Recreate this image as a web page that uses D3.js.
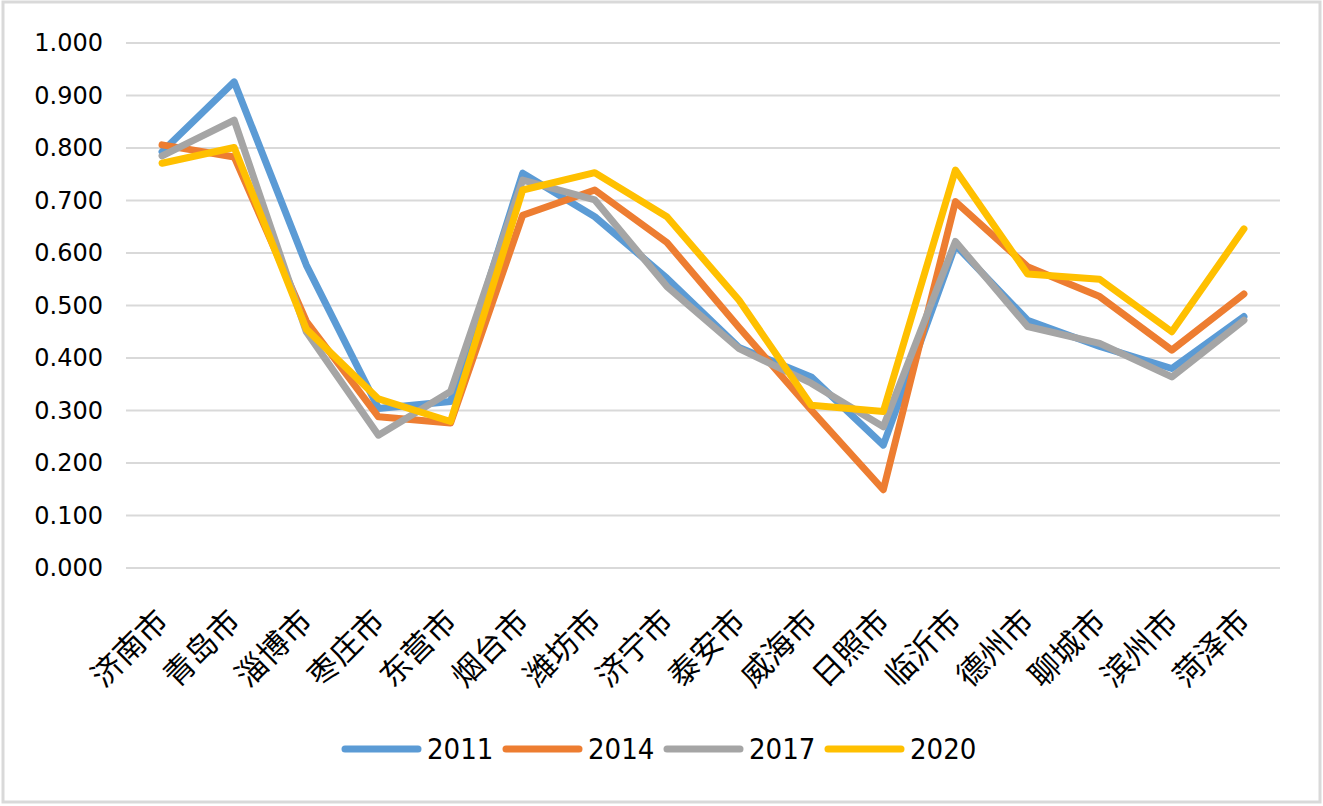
<!DOCTYPE html>
<html>
<head>
<meta charset="utf-8">
<script src="https://cdn.jsdelivr.net/npm/d3@7"></script>
<style>
  html, body { margin: 0; padding: 0; background: #fff; }
  svg { display: block; }
</style>
</head>
<body>
<div id="chart"></div>
<script>
// 数据
const cities = ['济南市', '青岛市', '淄博市', '枣庄市', '东营市', '烟台市', '潍坊市', '济宁市',
  '泰安市', '威海市', '日照市', '临沂市', '德州市', '聊城市', '滨州市', '菏泽市'];
const years = ['2011', '2014', '2017', '2020'];
const v2011 = [0.793, 0.926, 0.577, 0.304, 0.317, 0.752, 0.669, 0.552, 0.420, 0.364, 0.234, 0.615, 0.472, 0.422, 0.380, 0.479];
const v2014 = [0.806, 0.783, 0.470, 0.288, 0.276, 0.672, 0.720, 0.620, 0.458, 0.301, 0.149, 0.698, 0.574, 0.517, 0.415, 0.522];
const v2017 = [0.785, 0.853, 0.450, 0.253, 0.336, 0.739, 0.701, 0.536, 0.418, 0.352, 0.269, 0.622, 0.460, 0.428, 0.364, 0.472];
const v2020 = [0.771, 0.801, 0.455, 0.322, 0.279, 0.720, 0.753, 0.669, 0.510, 0.310, 0.298, 0.758, 0.560, 0.550, 0.450, 0.646];
const yTicks = [0, 0.1, 0.2, 0.3, 0.4, 0.5, 0.6, 0.7, 0.8, 0.9, 1.0];

const seriesValues = [v2011, v2014, v2017, v2020];
const colors = ['#5B9BD5', '#ED7D31', '#A5A5A5', '#FFC000'];

const width = 1323, height = 806;
const plot = { left: 126, right: 1280, top: 43, bottom: 568 };

const svg = d3.select('#chart').append('svg')
  .attr('width', width)
  .attr('height', height);

// 外框
svg.append('rect')
  .attr('x', 3).attr('y', 2)
  .attr('width', width - 6).attr('height', height - 6)
  .attr('fill', '#fff')
  .attr('stroke', '#d9d9d9')
  .attr('stroke-width', 3);

const x = d3.scaleBand()
  .domain(cities)
  .range([plot.left, plot.right]);

const y = d3.scaleLinear()
  .domain([0, 1])
  .range([plot.bottom, plot.top]);

// 网格线
svg.append('g')
  .selectAll('line')
  .data(yTicks)
  .enter().append('line')
  .attr('x1', plot.left).attr('x2', plot.right)
  .attr('y1', d => y(d)).attr('y2', d => y(d))
  .attr('stroke', '#d9d9d9')
  .attr('stroke-width', 2);

// Y 轴
const yAxis = d3.axisLeft(y)
  .tickValues(yTicks)
  .tickFormat(d3.format('.3f'))
  .tickSize(0)
  .tickPadding(0);

const yg = svg.append('g')
  .attr('transform', 'translate(103,0)')
  .call(yAxis);
yg.select('.domain').remove();
yg.selectAll('text')
  .attr('font-family', "'DejaVu Sans', Verdana, sans-serif")
  .attr('font-size', 24)
  .attr('fill', '#000');

// X 轴标签
svg.append('g')
  .selectAll('text')
  .data(cities)
  .enter().append('text')
  .attr('transform', d => `translate(${x(d) + x.bandwidth() / 2 + 8},623) rotate(-45)`)
  .attr('text-anchor', 'end')
  .attr('font-family', "'Noto Sans CJK SC', sans-serif")
  .attr('font-size', 31)
  .attr('fill', '#000')
  .text(d => d);

// 折线
const line = d3.line()
  .x((d, i) => x(cities[i]) + x.bandwidth() / 2)
  .y(d => y(d));

svg.append('g')
  .selectAll('path')
  .data(seriesValues)
  .enter().append('path')
  .attr('d', line)
  .attr('fill', 'none')
  .attr('stroke', (d, i) => colors[i])
  .attr('stroke-width', 7)
  .attr('stroke-linejoin', 'round')
  .attr('stroke-linecap', 'round');

// 图例
const legend = svg.append('g')
  .selectAll('g')
  .data(years)
  .enter().append('g')
  .attr('transform', (d, i) => `translate(${345 + i * 161},749)`);

legend.append('line')
  .attr('x1', 0).attr('x2', 73)
  .attr('y1', 0).attr('y2', 0)
  .attr('stroke', (d, i) => colors[i])
  .attr('stroke-width', 7)
  .attr('stroke-linecap', 'round');

legend.append('text')
  .attr('x', 82)
  .attr('y', 10)
  .attr('font-family', "'DejaVu Sans Condensed', 'Liberation Sans Narrow', sans-serif")
  .attr('font-size', 29)
  .attr('fill', '#000')
  .text(d => d);
</script>
</body>
</html>
